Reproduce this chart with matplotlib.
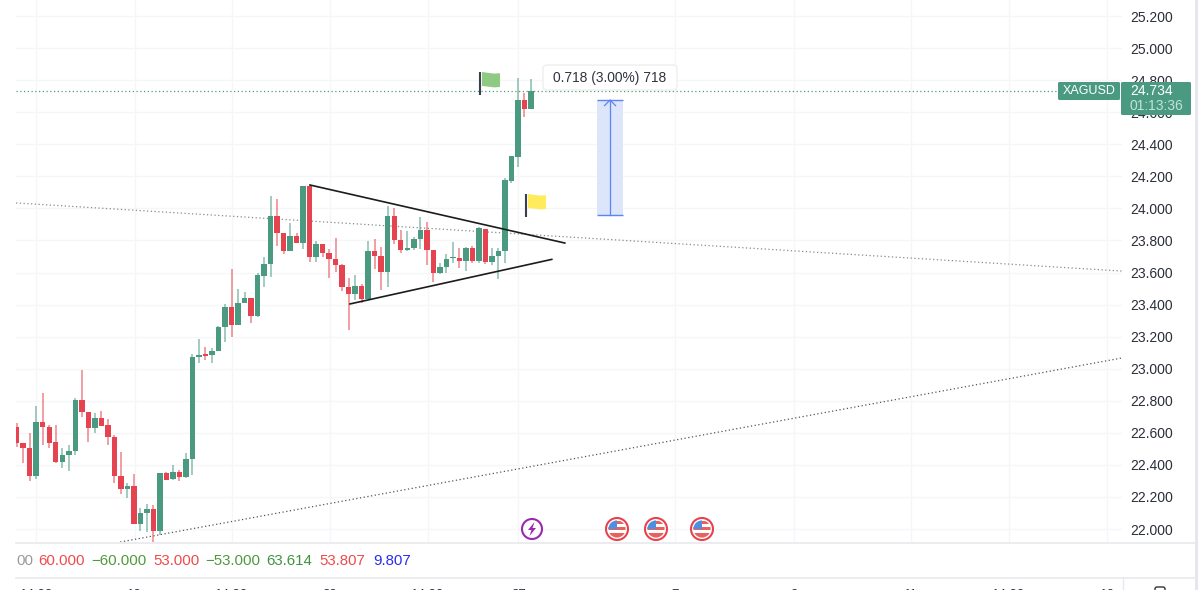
import matplotlib
matplotlib.use("Agg")
import matplotlib.pyplot as plt
from matplotlib.patches import Circle, FancyBboxPatch, Polygon, Rectangle

plt.rcParams["font.family"] = ["Liberation Sans", "DejaVu Sans"]

# OHLC, one row per bar
tops = [22.634, 22.535, 22.505, 22.668, 22.668, 22.639, 22.543, 22.462, 22.489, 22.807,
        22.805, 22.732, 22.691, 22.691, 22.647, 22.576, 22.333, 22.268, 22.268, 22.098,
        22.127, 22.127, 22.347, 22.347, 22.358, 22.356, 22.435, 23.075, 23.086, 23.092,
        23.113, 23.263, 23.385, 23.385, 23.410, 23.441, 23.441, 23.583, 23.656, 23.951,
        23.951, 23.845, 23.830, 23.830, 24.142, 24.142, 23.780, 23.780, 23.724, 23.685,
        23.647, 23.512, 23.516, 23.516, 23.735, 23.735, 23.704, 23.955, 23.955, 23.805,
        23.753, 23.810, 23.864, 23.864, 23.741, 23.635, 23.687, 23.695, 23.691, 23.753,
        23.753, 23.876, 23.874, 23.704, 23.735, 24.176, 24.327, 24.676, 24.676, 24.734]
bottoms = [22.535, 22.505, 22.331, 22.331, 22.634, 22.539, 22.416, 22.416, 22.462, 22.489,
           22.730, 22.632, 22.632, 22.645, 22.574, 22.333, 22.252, 22.252, 22.033, 22.033,
           22.100, 21.990, 21.990, 22.308, 22.310, 22.322, 22.322, 22.435, 23.071, 23.082,
           23.084, 23.111, 23.263, 23.273, 23.273, 23.410, 23.331, 23.331, 23.581, 23.654,
           23.845, 23.735, 23.737, 23.783, 23.783, 23.697, 23.697, 23.724, 23.683, 23.647,
           23.512, 23.464, 23.464, 23.435, 23.433, 23.704, 23.602, 23.602, 23.803, 23.741,
           23.739, 23.753, 23.810, 23.741, 23.595, 23.595, 23.635, 23.689, 23.670, 23.670,
           23.670, 23.670, 23.666, 23.666, 23.704, 23.733, 24.173, 24.323, 24.622, 24.622]
highs = [22.659, 22.535, 22.601, 22.770, 22.847, 22.647, 22.649, 22.503, 22.526, 22.815,
         22.992, 22.732, 22.726, 22.738, 22.684, 22.584, 22.483, 22.289, 22.343, 22.129,
         22.156, 22.152, 22.347, 22.358, 22.399, 22.368, 22.474, 23.092, 23.184, 23.134,
         23.129, 23.267, 23.402, 23.620, 23.496, 23.477, 23.441, 23.595, 23.695, 24.078,
         24.059, 23.845, 23.907, 23.847, 24.142, 24.142, 23.797, 23.780, 23.745, 23.814,
         23.652, 23.566, 23.585, 23.529, 23.797, 23.808, 23.758, 24.016, 24.001, 23.864,
         23.857, 23.824, 23.945, 23.918, 23.741, 23.662, 23.716, 23.791, 23.751, 23.758,
         23.766, 23.887, 23.874, 23.751, 23.751, 24.188, 24.327, 24.815, 24.722, 24.807]
lows = [22.510, 22.414, 22.302, 22.314, 22.524, 22.503, 22.414, 22.383, 22.362, 22.462,
        22.697, 22.543, 22.599, 22.645, 22.526, 22.285, 22.220, 22.193, 22.033, 21.988,
        21.981, 21.915, 21.963, 22.306, 22.304, 22.300, 22.316, 22.337, 23.034, 23.055,
        23.034, 23.111, 23.169, 23.200, 23.273, 23.408, 23.283, 23.325, 23.508, 23.575,
        23.766, 23.716, 23.737, 23.783, 23.745, 23.666, 23.666, 23.699, 23.564, 23.604,
        23.487, 23.244, 23.429, 23.408, 23.433, 23.620, 23.491, 23.508, 23.778, 23.724,
        23.737, 23.741, 23.745, 23.647, 23.543, 23.591, 23.595, 23.658, 23.627, 23.610,
        23.662, 23.658, 23.654, 23.649, 23.562, 23.658, 24.158, 24.260, 24.572, 24.622]
rising = [0, 0, 0, 1, 0, 0, 0, 1, 1, 1,
          0, 0, 1, 0, 0, 0, 0, 1, 0, 1,
          1, 0, 1, 0, 1, 0, 1, 1, 1, 0,
          1, 1, 1, 0, 1, 1, 0, 1, 1, 1,
          0, 0, 1, 0, 1, 0, 1, 0, 0, 0,
          0, 0, 1, 0, 1, 0, 0, 1, 0, 0,
          1, 1, 1, 0, 0, 1, 1, 1, 0, 1,
          0, 1, 0, 1, 1, 1, 1, 1, 0, 1]

price_ticks = [22.0, 22.2, 22.4, 22.6, 22.8, 23.0, 23.2, 23.4, 23.6, 23.8, 24.0, 24.2, 24.4,
               24.6, 24.8, 25.0, 25.2]
time_ticks = [3.04, 18.1, 33.07, 48.08, 63.13, 77.05, 101.2, 119.35, 137.4, 152.4, 167.5]
time_labels = ["14:00", "19", "14:00", "20", "14:00", "27", "7", "9", "11", "14:00", "16"]

last_price = 24.734
triangle_upper = ([45.05, 84.2], [24.146, 23.784])
triangle_lower = ([51.2, 82.2], [23.404, 23.682])
dotted_upper = ([-0.1, 169.8], [24.034, 23.609])
dotted_lower = ([15.9, 169.8], [21.919, 23.067])
measure_x = [89.1, 93.2]
measure_prices = [23.958, 24.676]

status_items = [("00", 16, "#9a9a9a"), ("60.000", 38, "#ef4a4a"), ("\u221260.000", 91, "#4e9a3a"),
                ("53.000", 153, "#ef4a4a"), ("\u221253.000", 205, "#4e9a3a"),
                ("63.614", 266, "#3f9440"), ("53.807", 319, "#ef4a4a"), ("9.807", 373, "#2b2bef")]

GREEN = "#4a9a82"
RED = "#e5434f"
GRID = "#f5f6f8"
LINE = "#e8e9ee"

W, H = 1204, 608
fig = plt.figure(figsize=(W / 100, H / 100), dpi=100, facecolor="white")
ax = fig.add_axes([16 / W, (H - 542) / H, (1122 - 16) / W, 542 / H])
ax.set_xlim(-0.108, 169.8)
ax.set_ylim(21.919, 25.3)
for s in ax.spines.values():
    s.set_visible(False)
ax.set_axisbelow(True)
ax.grid(True, color=GRID, linewidth=1)

ax.yaxis.tick_right()
ax.set_yticks(price_ticks)
ax.set_yticklabels([f"{p:.3f}" for p in price_ticks])
ax.tick_params(axis="y", length=0, pad=5.8, labelsize=10, labelcolor="#2a2e39")
ax.set_xticks(time_ticks)
ax.set_xticklabels(time_labels)
ax.tick_params(axis="x", length=0, pad=33.5, labelsize=9.5, labelcolor="#2a2e39")

# Trend lines under the bars
ax.plot(*dotted_upper, color="#8a8a8a", lw=0.9, ls=(0, (1, 2)), zorder=1)
ax.plot(*dotted_lower, color="#555555", lw=0.9, ls=(0, (1, 2)), zorder=1)
ax.plot([-0.1, 160.8], [last_price, last_price], color=GREEN, lw=0.9, ls=(0, (1, 2)), zorder=1)

# Candles
xs = list(range(len(tops)))
colors = [GREEN if r else RED for r in rising]
ax.vlines(xs, lows, highs, colors=colors, lw=1.1, alpha=0.65, zorder=2)
ax.bar(xs, [t - b for t, b in zip(tops, bottoms)], bottom=bottoms, width=0.84, color=colors, zorder=3)

ax.plot(*triangle_upper, color="#1c1c1c", lw=1.2, zorder=4)
ax.plot(*triangle_lower, color="#1c1c1c", lw=1.2, zorder=4)

# Measure tool
ax.fill_between(measure_x, measure_prices[0], measure_prices[1], color="#dde5fb", lw=0, zorder=2)
ax.hlines(measure_prices, measure_x[0], measure_x[1], color="#5b84f5", lw=1.0, zorder=3)
mid_x = sum(measure_x) / 2
ax.plot([mid_x, mid_x], measure_prices, color="#5b84f5", lw=0.9, zorder=3)
ax.plot([mid_x - 0.85, mid_x, mid_x + 0.85], [measure_prices[1] - 0.035, measure_prices[1], measure_prices[1] - 0.035],
        color="#5b84f5", lw=0.9, zorder=3)

# Pixel overlay for the interface pieces
ui = fig.add_axes([0, 0, 1, 1], zorder=5, facecolor="none")
ui.set_xlim(0, W)
ui.set_ylim(H, 0)
ui.axis("off")


def flag(x, y, color):
    ui.plot([x, x], [y, y + 22.5], color="#3a3f50", lw=1.5, solid_capstyle="butt")
    ui.add_patch(Polygon([(x + 2, y), (x + 8, y + 0.8), (x + 14, y + 1.6), (x + 20, y + 1.2),
                          (x + 20, y + 15), (x + 14, y + 15.4), (x + 8, y + 14.6), (x + 2, y + 14)],
                         closed=True, fc=color, ec="none"))


def us_flag(x, y):
    ui.add_patch(Circle((x, y), 11, fc="white", ec="#e6434f", lw=1.5))
    clip = Circle((x, y), 8.6, transform=ui.transData)
    parts = [Rectangle((x - 9, y - 9), 18, 18, fc="white", ec="none"),
             Rectangle((x - 9, y - 2.5), 18, 3, fc="#e7625f", ec="none"),
             Rectangle((x - 9, y + 4), 18, 5, fc="#e7625f", ec="none"),
             Rectangle((x - 1, y - 8), 10, 2.5, fc="#e7625f", ec="none"),
             Rectangle((x - 9, y - 9), 9, 9, fc="#4f8fe0", ec="none")]
    for p in parts:
        ui.add_patch(p)
        p.set_clip_path(clip)


flag(480, 72, "#8fca82")
flag(526, 194, "#ffeb5c")

# Measure label
ui.add_patch(FancyBboxPatch((543, 65), 134, 25, boxstyle="round,pad=0,rounding_size=4",
                            fc="white", ec="#eeeeee", lw=1))
ui.text(610, 78, "0.718 (3.00%) 718", ha="center", va="center", fontsize=9.9, color="#2f3340")

# Last price tags
ui.add_patch(FancyBboxPatch((1058, 82), 62, 18, boxstyle="round,pad=0,rounding_size=1.5", fc=GREEN, ec="none"))
ui.add_patch(FancyBboxPatch((1121, 82), 70, 33, boxstyle="round,pad=0,rounding_size=1.5", fc=GREEN, ec="none"))
ui.text(1063, 91, "XAGUSD", ha="left", va="center", fontsize=9, color="white")
ui.text(1130, 91, f"{last_price:.3f}", ha="left", va="center", fontsize=10, color="white")
ui.text(1130, 106, "01:13:36", ha="left", va="center", fontsize=10, color="#c2e2d7")

# Indicator row
for label, x, col in status_items:
    ui.text(x, 561, label, ha="left", va="center", fontsize=10.8, color=col)

# Event icons
ui.add_patch(Circle((532, 529), 10, fc="white", ec="#9c27b0", lw=1.5))
ui.add_patch(Polygon([(534.5, 522), (528, 530), (531.5, 530), (529.5, 536), (536, 528), (532.5, 528)],
                     closed=True, fc="#9c27b0", ec="none"))
for x in [617, 656, 702]:
    us_flag(x, 529)

# Panel separators
ui.plot([16, 1195], [542.5, 542.5], color=LINE, lw=1.2)
ui.plot([16, 1195], [578, 578], color=LINE, lw=1.2)
ui.plot([1123, 1123], [578, 591], color=LINE, lw=1)
ui.add_patch(Rectangle((1195, 0), 3, 591, fc="#e6e7ec", ec="none"))
ui.add_patch(FancyBboxPatch((1155, 587), 10, 8, boxstyle="round,pad=0,rounding_size=2", fc="white", ec="#333333", lw=1))

# Screenshot is cut off below the time labels
ui.add_patch(Rectangle((0, 590), W, H - 590, fc="white", ec="none", zorder=10))

fig.savefig("out.png", dpi=100)
